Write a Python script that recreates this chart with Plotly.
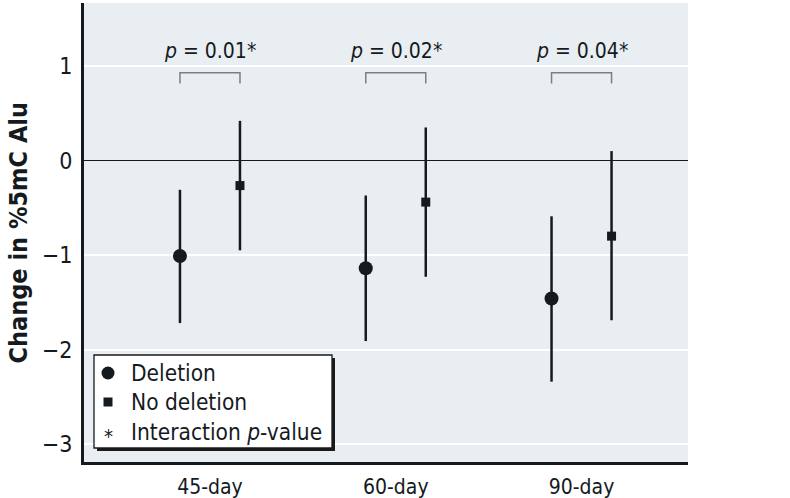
import plotly.graph_objects as go

categories = ["45-day", "60-day", "90-day"]
deletion_est = [-1.01, -1.14, -1.46]
deletion_lo = [-1.72, -1.91, -2.34]
deletion_hi = [-0.31, -0.37, -0.59]
nodel_est = [-0.265, -0.44, -0.80]
nodel_lo = [-0.95, -1.23, -1.69]
nodel_hi = [0.42, 0.35, 0.10]
p_labels = ["0.01", "0.02", "0.04"]
yticks = [1, 0, -1, -2, -3]
legend_labels = ["Deletion", "No deletion", "Interaction <i>p</i>-value"]

FONT = "Liberation Sans Narrow, DejaVu Sans Condensed, Roboto Condensed, Arial Narrow, sans-serif"
DARK = "#151a1e"
off = 0.1615
xc = list(range(len(categories)))
x_del = [x - off for x in xc]
x_nd = [x + off for x in xc]

L, R, T, B = 84, 688, 3, 462
PW, PH = R - L, B - T


def px(x):
    return (x - L) / PW


def py(y):
    return (B - y) / PH


fig = go.Figure()
fig.add_trace(go.Scatter(
    x=x_del, y=deletion_est, mode="markers", name="Deletion",
    marker=dict(symbol="circle", size=14, color=DARK),
    error_y=dict(type="data", symmetric=False,
                 array=[h - e for h, e in zip(deletion_hi, deletion_est)],
                 arrayminus=[e - l for e, l in zip(deletion_est, deletion_lo)],
                 thickness=2.5, width=0, color=DARK),
))
fig.add_trace(go.Scatter(
    x=x_nd, y=nodel_est, mode="markers", name="No deletion",
    marker=dict(symbol="square", size=9, color=DARK),
    error_y=dict(type="data", symmetric=False,
                 array=[h - e for h, e in zip(nodel_hi, nodel_est)],
                 arrayminus=[e - l for e, l in zip(nodel_est, nodel_lo)],
                 thickness=2.5, width=0, color=DARK),
))

shapes = []
annotations = []
for i, p in enumerate(p_labels):
    shapes.append(dict(type="path", xref="x", yref="y",
                       path=f"M {x_del[i]},0.815 L {x_del[i]},0.93 L {x_nd[i]},0.93 L {x_nd[i]},0.815",
                       line=dict(color="#7a7f83", width=1.5)))
    annotations.append(dict(x=xc[i], y=1.16, xref="x", yref="y",
                            text=f"<i>p</i> = {p}*", showarrow=False,
                            font=dict(family=FONT, size=21, color=DARK)))

# y-axis title
annotations.append(dict(x=px(18), y=0.5, xref="paper", yref="paper",
                        text="<b>Change in %5mC Alu</b>", textangle=-90, showarrow=False,
                        xanchor="center", yanchor="middle",
                        font=dict(family=FONT, size=25, color=DARK)))

# hand-built legend
lg_x0, lg_y0, lg_x1, lg_y1 = 94, 355, 332, 448
shapes.append(dict(type="rect", xref="paper", yref="paper",
                   x0=px(lg_x0 + 3), x1=px(lg_x1 + 3), y0=py(lg_y1 + 3), y1=py(lg_y0 + 3),
                   fillcolor="#1a1a1a", line=dict(width=0), layer="above"))
shapes.append(dict(type="rect", xref="paper", yref="paper",
                   x0=px(lg_x0), x1=px(lg_x1), y0=py(lg_y1), y1=py(lg_y0),
                   fillcolor="white", line=dict(color="#1a1a1a", width=1.3), layer="above"))
item_y = [373, 402, 432]
mx = 108
# circle
shapes.append(dict(type="circle", xref="paper", yref="paper",
                   x0=px(mx - 6.5), x1=px(mx + 6.5), y0=py(item_y[0] + 6.5), y1=py(item_y[0] - 6.5),
                   fillcolor=DARK, line=dict(width=0), layer="above"))
# square
shapes.append(dict(type="rect", xref="paper", yref="paper",
                   x0=px(mx - 4.5), x1=px(mx + 4.5), y0=py(item_y[1] + 4.5), y1=py(item_y[1] - 4.5),
                   fillcolor=DARK, line=dict(width=0), layer="above"))
# asterisk
annotations.append(dict(x=px(mx), y=py(item_y[2] + 4), xref="paper", yref="paper",
                        text="*", showarrow=False, xanchor="center", yanchor="middle",
                        font=dict(family=FONT, size=20, color=DARK)))
for lab, yy in zip(legend_labels, item_y):
    annotations.append(dict(x=px(129), y=py(yy), xref="paper", yref="paper",
                            text=lab, showarrow=False, xanchor="left", yanchor="middle",
                            font=dict(family=FONT, size=22.5, color=DARK)))

fig.update_layout(
    width=790, height=498,
    margin=dict(l=L, r=790 - R, t=T, b=498 - B, autoexpand=False),
    paper_bgcolor="white", plot_bgcolor="#e9eef2",
    font=dict(family=FONT, size=20, color=DARK),
    showlegend=False,
    shapes=shapes, annotations=annotations,
)
fig.update_xaxes(range=[-0.678, 2.573], tickvals=xc, ticktext=categories, automargin=False,
                 showgrid=False, zeroline=False, showline=True, linecolor=DARK, linewidth=3,
                 ticks="outside", ticklen=4, tickcolor="rgba(0,0,0,0)",
                 tickfont=dict(family=FONT, size=21, color=DARK))
fig.update_yaxes(range=[-3.19, 1.667], tickvals=yticks, automargin=False,
                 showgrid=True, gridcolor="white", gridwidth=1.5,
                 zeroline=True, zerolinecolor=DARK, zerolinewidth=1.2,
                 showline=True, linecolor=DARK, linewidth=3,
                 ticks="outside", ticklen=4, tickcolor="rgba(0,0,0,0)",
                 tickfont=dict(family=FONT, size=23, color=DARK))

fig.write_html("out.html", config={"displayModeBar": False},
               post_script="document.body.style.margin='0';document.body.style.padding='0';")
